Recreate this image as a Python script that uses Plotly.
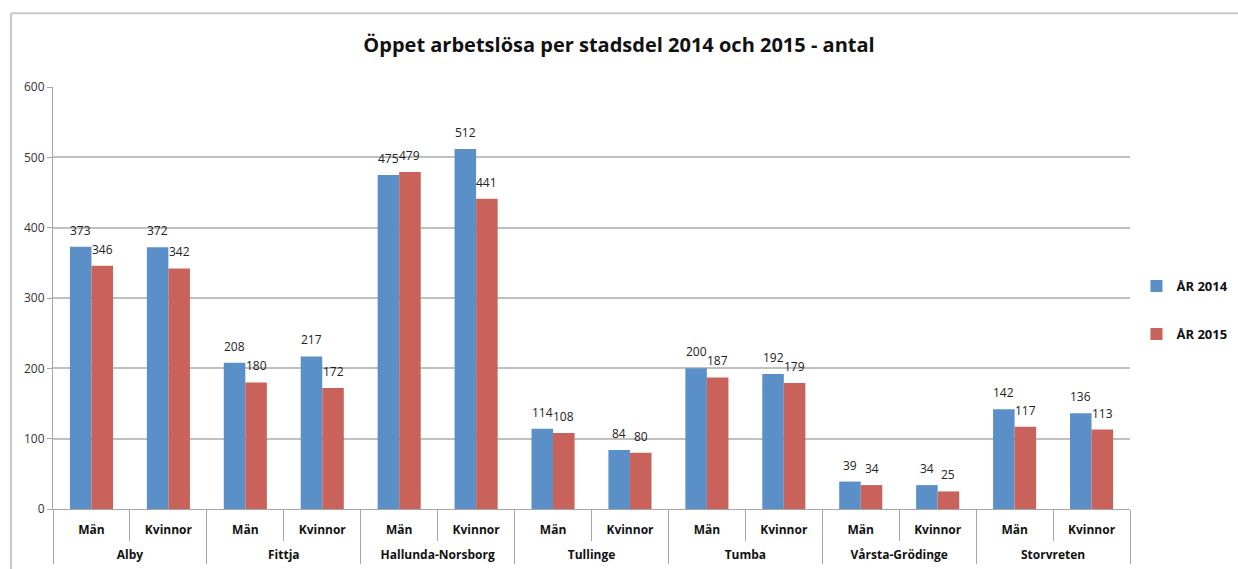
import plotly.graph_objects as go

districts = ["Alby", "Fittja", "Hallunda-Norsborg", "Tullinge", "Tumba",
             "Vårsta-Grödinge", "Storvreten"]
genders = ["Män", "Kvinnor"]
year_2014 = [373, 372, 208, 217, 475, 512, 114, 84, 200, 192, 39, 34, 142, 136]
year_2015 = [346, 342, 180, 172, 479, 441, 108, 80, 187, 179, 34, 25, 117, 113]
series_names = ["ÅR 2014", "ÅR 2015"]
colors = ["#5B8FC8", "#C8625A"]

# leading line break pushes the district row below the gender row
x_outer = ["<br>" + d for d in districts for _ in genders]
x_inner = [g for _ in districts for g in genders]

FONT = "Open Sans, Liberation Sans, sans-serif"
BARGAP = 0.44

fig = go.Figure()
series = [year_2014, year_2015]
for i, (name, vals) in enumerate(zip(series_names, series)):
    fig.add_trace(go.Bar(
        x=[x_outer, x_inner], y=vals, name=name,
        marker=dict(color=colors[i], line=dict(width=0)),
        legendgroup=name, hoverinfo="skip",
    ))

# data labels, placed through the axes from the data values
half = (1 - BARGAP) / 4
for s, vals in enumerate(series):
    off = -half if s == 0 else half
    for k, v in enumerate(vals):
        fig.add_annotation(
            x=k + off, y=v, xref="x", yref="y", text=str(v), showarrow=False,
            xanchor="center", yanchor="bottom", yshift=6,
            font=dict(size=12, color="#222222", family=FONT),
        )

fig.update_layout(
    width=1238, height=569,
    paper_bgcolor="white", plot_bgcolor="white",
    margin=dict(l=53, r=108, t=87, b=60, autoexpand=False),
    barmode="group", bargap=BARGAP, bargroupgap=0,
    title=dict(text="<b>Öppet arbetslösa per stadsdel 2014 och 2015 - antal</b>",
               x=0.5, xanchor="center", y=0.921, yanchor="middle",
               font=dict(size=20, color="#111111", family=FONT)),
    font=dict(family=FONT, color="#222222"),
    legend=dict(xref="container", yref="container", x=0.918, xanchor="left",
                y=0.455, yanchor="middle",
                font=dict(size=13, color="#111111", family=FONT, weight="bold"),
                tracegroupgap=28, itemwidth=30, traceorder="grouped"),
    showlegend=True,
)
fig.update_xaxes(
    type="multicategory", showline=True, linecolor="#a6a6a6", linewidth=1,
    ticks="outside", ticklen=31, tickcolor="#a6a6a6", tickwidth=1,
    showdividers=True, dividercolor="#a6a6a6", dividerwidth=1,
    tickfont=dict(size=12, color="#111111", family=FONT, weight="bold"),
    ticklabelstandoff=10, automargin=False,
    showgrid=False,
)
fig.update_yaxes(
    range=[0, 600], dtick=100, showgrid=True, gridcolor="#c0c0c0", gridwidth=2,
    showline=True, linecolor="#a6a6a6", linewidth=1,
    ticks="outside", ticklen=5, tickcolor="#a6a6a6",
    tickfont=dict(size=12, color="#333333", family=FONT),
    zeroline=False, automargin=False,
)
# outer chart frame
fig.add_shape(type="line", xref="paper", yref="paper", x0=-0.039, x1=1.11,
              y0=1.175, y1=1.175, line=dict(color="#c8c8c8", width=2))
fig.add_shape(type="line", xref="paper", yref="paper", x0=-0.039, x1=-0.039,
              y0=1.175, y1=-0.15, line=dict(color="#c8c8c8", width=2))

fig.write_html("out.html", config={"displayModeBar": False},
               post_script="document.body.style.margin='0';document.body.style.overflow='hidden';")
